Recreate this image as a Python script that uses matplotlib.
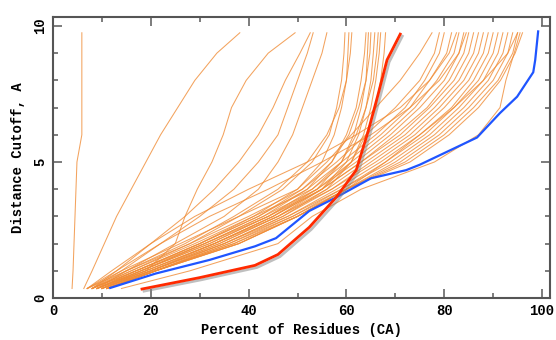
import numpy as np
import matplotlib
matplotlib.use("Agg")
import matplotlib.pyplot as plt
import matplotlib.patheffects as pe
from matplotlib.ticker import MultipleLocator

levels = [0.35, 1, 2, 3, 4, 5, 6, 7, 8, 9, 9.75]

# outlier curves on the left (x = percent of residues at each level)
left_curves = [
    [3.9, 4.1, 4.3, 4.5, 4.7, 4.9, 5.9, 5.9, 5.9, 5.9, 5.9],
    [6.3, 8, 10.5, 13, 16, 19, 22, 25.5, 29, 33.5, 38.2],
    [9, 19, 25, 27, 29.5, 32.5, 34.8, 36.5, 39.5, 44, 49.5],
    [8, 13, 20, 27, 33, 38, 42, 45, 47.5, 50.5, 52.6],
    [8, 14, 22, 30, 37, 42, 46, 48, 50, 52, 53.2],
    [9, 15, 25, 35, 42, 46, 49, 51, 53, 55, 56],
]

# steep group ending around 60-68
steep_curves = [
    [8, 16, 28, 38, 47, 53, 56.5, 58, 59, 59.5, 59.7],
    [9, 17, 30, 41, 50, 55, 57.5, 59, 60, 60.3, 60.5],
    [7, 15, 27, 37, 46, 52, 56, 58.5, 60, 60.8, 61.1],
    [9, 18, 31, 43, 52, 57, 60, 62, 63, 63.7, 64],
    [10, 19, 33, 45, 54, 59, 61.5, 63, 64, 64.3, 64.5],
    [8, 17, 30, 42, 51, 57, 60.5, 62.5, 64, 64.8, 65],
    [10, 20, 34, 46, 55, 60, 62.5, 64, 65, 65.5, 65.8],
    [9, 18, 32, 44, 53, 59, 62, 64, 65.5, 66.2, 66.5],
    [11, 21, 35, 47, 56, 61, 63.5, 65, 66, 66.7, 67],
    [10, 20, 33, 45, 55, 61, 64, 66, 67, 67.7, 68],
]

# wide group ending around 77-96
wide_curves = [
    [7, 14, 26, 38, 50, 56, 61, 66, 71, 75, 77.5],
    [8, 15, 28, 40, 51, 58, 64, 70, 75, 78, 79],
    [9, 17, 30, 42, 52, 59, 66, 72, 76, 79, 80],
    [8, 16, 29, 41, 53, 60, 67, 73, 77, 80.5, 81.5],
    [10, 18, 31, 43, 54, 61, 68, 74, 78.5, 82, 83],
    [9, 18, 32, 44, 54, 62, 69, 75, 80, 83, 84],
    [10, 19, 33, 45, 55, 63, 70, 76.5, 81, 84, 85],
    [8, 17, 31, 44, 55, 63, 71, 77, 82, 85, 86],
    [11, 20, 34, 46, 56, 64, 72, 78, 83, 86, 87],
    [9, 19, 33, 46, 57, 65, 73, 79, 84, 87, 88],
    [10, 20, 35, 47, 57, 66, 74, 80, 85, 88, 89],
    [11, 21, 36, 48, 58, 67, 75, 81.5, 86, 89, 90],
    [10, 20, 35, 48, 59, 68, 76, 82, 87, 90, 91],
    [11, 21, 37, 49, 59, 69, 77, 83, 88, 91, 92],
    [11, 21, 37, 50, 60, 70, 78, 84, 89, 92, 93],
    [11, 21, 36, 49, 60, 71, 79, 85, 90, 93, 94],
    [11, 21, 38, 50, 60, 72, 80, 86, 91, 94, 95],
    [11, 21, 38, 50, 60, 73, 81, 87, 91.5, 94.5, 96],
    [11, 21, 38, 50, 60, 68, 75, 82, 88, 93, 95],
    [7, 12, 20, 29, 40, 52, 62, 71, 77, 81, 82.5],
    [7, 13, 22, 32, 44, 55, 65, 73, 79, 83, 84.5],
    [14, 28, 46, 53, 63, 78, 87, 91.4, 92.6, 94.3, 95.5],
]

# highlighted curves
blue_x = [11.7, 21, 32, 41.3, 45.6, 52.4, 57.9, 65, 72.2, 75, 86.7, 91.4, 94.9, 98.2, 98.6, 99.2]
blue_y = [0.37, 0.9, 1.4, 1.9, 2.2, 3.2, 3.7, 4.4, 4.7, 4.9, 5.9, 6.8, 7.4, 8.3, 8.75, 9.8]
red_x = [18.2, 30, 41.3, 46, 52.4, 57.9, 62, 64.4, 66.5, 68.3, 71]
red_y = [0.33, 0.75, 1.2, 1.6, 2.6, 3.7, 4.7, 6.1, 7.5, 8.75, 9.7]

plt.rcParams['font.family'] = 'Liberation Mono'
plt.rcParams['font.weight'] = 'bold'

fig = plt.figure(figsize=(5.56, 3.4), dpi=100)
ax = fig.add_axes([0.0953, 0.1235, 0.8937, 0.8265])

for grp in (left_curves, steep_curves, wide_curves):
    for xs in grp:
        ax.plot(xs, levels, color='#f08c36', lw=0.75, alpha=0.8)

ax.plot(blue_x, blue_y, color='#1f55ff', lw=1.6)
ax.plot(red_x, red_y, color='#ff2a00', lw=2.0,
        path_effects=[pe.SimpleLineShadow(offset=(1.5, -1.5), shadow_color='gray', alpha=0.5),
                      pe.Normal()])

ax.set_xlim(0, 101.6)
ax.set_ylim(0, 10.33)
ax.xaxis.set_major_locator(MultipleLocator(20))
ax.xaxis.set_minor_locator(MultipleLocator(10))
ax.yaxis.set_major_locator(MultipleLocator(5))
ax.yaxis.set_minor_locator(MultipleLocator(1))

ax.tick_params(which='both', direction='in', top=True, right=True, color='#666666', width=1.2)
ax.tick_params(which='major', length=6.5)
ax.tick_params(which='minor', length=3.6)
ax.tick_params(axis='x', pad=4, labelsize=10)
ax.tick_params(axis='y', pad=4, labelsize=10)
for lab in ax.get_yticklabels():
    lab.set_rotation(90)
    lab.set_va('center')

for s in ax.spines.values():
    s.set_color('#555555')
    s.set_linewidth(1.5)

ax.set_xlabel('Percent of Residues (CA)', fontsize=10, fontweight='bold', labelpad=4)
ax.set_ylabel('Distance Cutoff, A', fontsize=10, fontweight='bold', labelpad=6)

fig.savefig('out.png', dpi=100)
